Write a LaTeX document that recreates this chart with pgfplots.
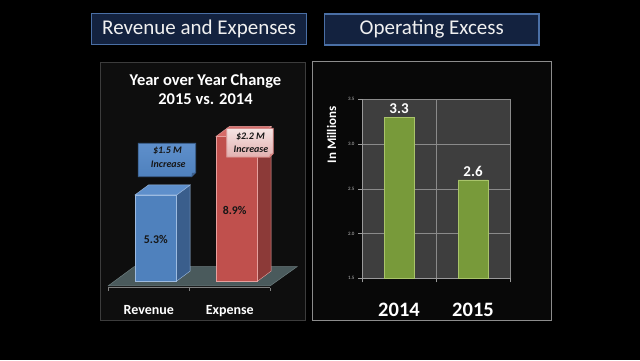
\documentclass[border=0pt]{standalone}
\usepackage{pgfplots}
\pgfplotsset{compat=1.18}
\usepackage{fontspec}
\setmainfont{Carlito}
\definecolor{boxfill}{HTML}{13223F}
\definecolor{boxborder}{HTML}{4A6FA5}
\definecolor{titletext}{HTML}{F0F0F0}
\definecolor{lpfill}{HTML}{0E0E0E}
\definecolor{lpborder}{HTML}{3C3C3C}
\definecolor{rpfill}{HTML}{080808}
\definecolor{rpborder}{HTML}{8C8C8C}
\definecolor{floorfill}{HTML}{4A5A5C}
\definecolor{floorborder}{HTML}{6E7E80}
\definecolor{revfront}{HTML}{4F81BD}
\definecolor{revedge}{HTML}{9DBBE0}
\definecolor{revside}{HTML}{3A5E8C}
\definecolor{revtop}{HTML}{5E8FCB}
\definecolor{expfront}{HTML}{C0504D}
\definecolor{expedge}{HTML}{E6A09E}
\definecolor{expside}{HTML}{8C3A38}
\definecolor{exptop}{HTML}{D66B68}
\definecolor{plotbg}{HTML}{3E3E3E}
\definecolor{gridc}{HTML}{8A8A8A}
\definecolor{axisc}{HTML}{9A9A9A}
\definecolor{tickgray}{HTML}{BFBFBF}
\definecolor{barfill}{HTML}{789A3A}
\definecolor{baredge}{HTML}{A9C46A}
\definecolor{calltext}{HTML}{161616}
\pgfplotsset{/pgf/number format/assume math mode=true}
\begin{document}
\begin{tikzpicture}[x=1pt,y=1pt]
\fill[black] (0,0) rectangle (640,360);
% title boxes
\draw[draw=boxborder,line width=1.2pt,fill=boxfill] (91.7,346.7) rectangle (306.7,315.7);
\node[text=titletext,font=\fontsize{21}{24}\selectfont] at (199.2,331.2) {Revenue and Expenses};
\draw[draw=boxborder,line width=1.2pt,fill=boxfill] (324.3,346) rectangle (539,315);
\node[text=titletext,font=\fontsize{21}{24}\selectfont] at (431.7,330.5) {Operating Excess};
% panels
\draw[draw=lpborder,line width=0.8pt,fill=lpfill] (100.7,297.7) rectangle (305,39.5);
\draw[draw=rpborder,line width=1.2pt,fill=rpfill] (312.3,298.3) rectangle (551.7,39.3);
% left title
\node[text=white,font=\bfseries\fontsize{16.5}{19}\selectfont,anchor=base] at (205.5,275) {Year over Year Change};
\node[text=white,font=\bfseries\fontsize{16.5}{19}\selectfont,anchor=base] at (205.5,255.7) {2015 vs. 2014};
% left 3D chart
\begin{axis}[at={(108.3pt,72.3pt)},anchor=south west,scale only axis,
  width=162pt,height=152.9pt,xmin=0.5,xmax=2.5,ymin=-0.41,ymax=9,clip=false,
  axis x line*=bottom,axis y line=none,
  x axis line style={draw=gray,line width=0.6pt},
  xtick={1,2},xticklabels={Revenue,Expense},
  major x tick style=transparent,
  minor xtick={0.5,1.5,2.5},minor tick length=3pt,tick align=outside,
  minor x tick style={draw=gray,line width=0.6pt},
  x tick label style={font=\bfseries\fontsize{14}{16}\selectfont,text=white,anchor=base,yshift=-22.3pt},
  ytick=\empty]
\addplot[fill=floorfill,draw=floorborder,line width=0.5pt] coordinates {(0.5,-0.29) (2.5,-0.29) (2.833,0.892) (0.821,0.892)} -- cycle;
% revenue
\addplot[fill=revside,draw=revedge,line width=0.4pt] coordinates {(1.3445,0) (1.511,0.615) (1.511,5.915) (1.3445,5.3)} -- cycle;
\addplot[fill=revtop,draw=revedge,line width=0.4pt] coordinates {(0.8295,5.3) (1.3445,5.3) (1.511,5.915) (0.996,5.915)} -- cycle;
\addplot[ybar,bar shift=0pt,bar width=0.515,fill=revfront,draw=revedge,line width=0.5pt] coordinates {(1.087,5.3)};
% expense
\addplot[fill=expside,draw=expedge,line width=0.4pt] coordinates {(2.3445,0) (2.511,0.615) (2.511,9.515) (2.3445,8.9)} -- cycle;
\addplot[fill=exptop,draw=expedge,line width=0.4pt] coordinates {(1.8295,8.9) (2.3445,8.9) (2.511,9.515) (1.996,9.515)} -- cycle;
\addplot[ybar,bar shift=0pt,bar width=0.515,fill=expfront,draw=expedge,line width=0.5pt] coordinates {(2.087,8.9)};
\node[font=\bfseries\fontsize{11.8}{14}\selectfont,text=calltext] at (axis cs:1.087,2.58) {5.3\%};
\node[font=\bfseries\fontsize{11.8}{14}\selectfont,text=calltext] at (axis cs:2.06,4.37) {8.9\%};
\end{axis}
% callouts
\draw[draw=revside,line width=0.8pt,top color=revtop,bottom color=revfront] (138.3,216.7) -- (195.7,216.7) -- (195.7,187.5) -- (191.5,183.3) -- (138.3,183.3) -- cycle;
\fill[revside] (191.5,183.3) -- (195.7,187.5) -- (192.0,187.0) -- cycle;
\node[font=\bfseries\itshape\fontsize{10}{12}\selectfont,text=calltext] at (167.5,209) {\$1.5 M};
\node[font=\bfseries\itshape\fontsize{10}{12}\selectfont,text=calltext] at (168.3,195.7) {Increase};
\draw[draw=expfront!80,line width=0.8pt,top color=white!85!expfront,bottom color=white!55!expfront] (226.7,231.7) -- (273.3,231.7) -- (273.3,206.5) -- (269.5,202.7) -- (226.7,202.7) -- cycle;
\fill[expfront!70] (269.5,202.7) -- (273.3,206.5) -- (270,206) -- cycle;
\node[font=\bfseries\itshape\fontsize{10}{12}\selectfont,text=calltext] at (250.5,223.3) {\$2.2 M};
\node[font=\bfseries\itshape\fontsize{10}{12}\selectfont,text=calltext] at (251,211) {Increase};
% right chart
\begin{axis}[at={(362pt,81.7pt)},anchor=south west,scale only axis,
  width=148pt,height=179pt,xmin=-0.5,xmax=1.5,ymin=1.5,ymax=3.5,
  axis background/.style={fill=plotbg},
  axis x line*=bottom,axis y line*=left,
  axis line style={draw=axisc,line width=0.8pt},
  ytick={1.5,2,2.5,3,3.5},ymajorgrids,
  major grid style={draw=gridc,line width=0.6pt},
  minor grid style={draw=gridc,line width=0.6pt},
  tick align=outside,major tick length=4pt,minor tick length=4pt,
  every tick/.style={draw=axisc,line width=0.6pt},
  y tick label style={font=\fontsize{5}{6}\selectfont,text=tickgray,
    /pgf/number format/.cd,fixed,fixed zerofill,precision=1},
  xtick={0,1},xticklabels={2014,2015},
  major x tick style=transparent,
  minor xtick={-0.5,0.5,1.5},xminorgrids,
  x tick label style={font=\bfseries\fontsize{20.5}{24}\selectfont,text=white,anchor=base,yshift=-34.4pt}]
\addplot[ybar,bar shift=0pt,bar width=0.4,fill=barfill,draw=baredge,line width=0.6pt,
  nodes near coords,point meta=y,
  nodes near coords style={font=\bfseries\fontsize{15}{18}\selectfont,text=white,anchor=south,inner sep=3pt,
    /pgf/number format/.cd,fixed,precision=1}]
  coordinates {(0,3.3) (1,2.6)};
\end{axis}
\node[rotate=90,font=\bfseries\fontsize{13}{15}\selectfont,text=white] at (331.7,225) {In Millions};
\end{tikzpicture}
\end{document}
